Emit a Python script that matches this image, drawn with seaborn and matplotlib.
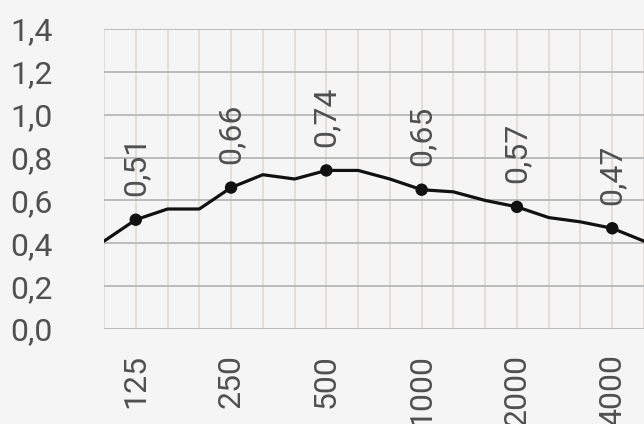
import numpy as np
import pandas as pd
import matplotlib.pyplot as plt
import seaborn as sns

# third-octave bands, 100 Hz .. 5000 Hz
bands = [100, 125, 160, 200, 250, 315, 400, 500, 630, 800,
         1000, 1250, 1600, 2000, 2500, 3150, 4000, 5000]
alpha = [0.41, 0.51, 0.56, 0.56, 0.66, 0.72, 0.70, 0.74, 0.74, 0.70,
         0.65, 0.64, 0.60, 0.57, 0.52, 0.50, 0.47, 0.41]
octaves = [125, 250, 500, 1000, 2000, 4000]
y_ticks = [0.0, 0.2, 0.4, 0.6, 0.8, 1.0, 1.2, 1.4]

df = pd.DataFrame({"pos": range(len(bands)), "band": bands, "alpha": alpha})
oct_df = df[df["band"].isin(octaves)]

sns.set_style("white")
plt.rcParams["font.family"] = ["Roboto", "DejaVu Sans"]

txt = dict(fontsize=23, color="#505050", fontweight="normal")

fig = plt.figure(figsize=(6.44, 4.24), dpi=100, facecolor="#f5f5f5")
ax = fig.add_axes([104 / 644, 95 / 424, 540 / 644, 300 / 424])
ax.set_facecolor("#f5f5f5")

# grid
for p in df["pos"]:
    ax.axvline(p, color="#e2ddd5", lw=1.3, zorder=0)
for y in y_ticks:
    ax.axhline(y, color="#b8b8b8", lw=1.3, zorder=0.5)

sns.lineplot(data=df, x="pos", y="alpha", color="#111111", lw=2.3, ax=ax)
sns.scatterplot(data=oct_df, x="pos", y="alpha", color="#111111", s=80,
                edgecolor="none", ax=ax, zorder=3)

for _, r in oct_df.iterrows():
    ax.annotate(f"{r['alpha']:.2f}".replace(".", ","), (r["pos"], r["alpha"]),
                xytext=(0, 17), textcoords="offset points", rotation=90,
                ha="center", va="bottom", **txt)

ax.set_xlim(0, len(bands) - 1)
ax.set_ylim(0, 1.4)
ax.set_xticks(oct_df["pos"])
ax.set_xticklabels([str(b) for b in octaves], rotation=90, va="top", **txt)
ax.set_yticks(y_ticks)
ax.set_yticklabels([f"{v:.1f}".replace(".", ",") for v in y_ticks], **txt)
ax.tick_params(axis="both", length=0)
ax.tick_params(axis="x", pad=18)
ax.tick_params(axis="y", pad=37)
ax.set_xlabel("")
ax.set_ylabel("")
for s in ax.spines.values():
    s.set_visible(False)

fig.savefig("out.png", dpi=100, facecolor=fig.get_facecolor())
